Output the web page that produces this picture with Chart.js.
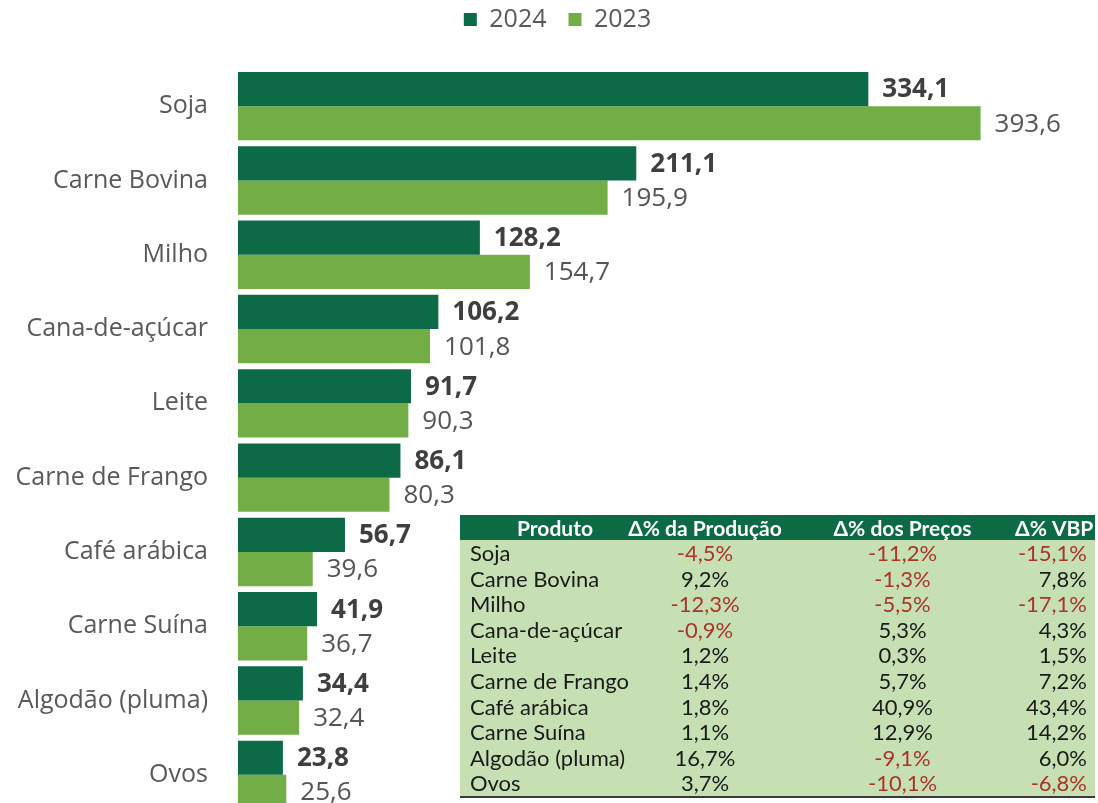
<!DOCTYPE html>
<html>
<head>
<meta charset="utf-8">
<script src="https://cdn.jsdelivr.net/npm/chart.js@4"></script>
<style>
  html, body { margin:0; padding:0; background:#fff; overflow:hidden; }
  #wrap { position:relative; width:1098px; height:812px; }
  #c { display:block; }
  #tbl { position:absolute; left:460px; top:515px; width:635px; border-collapse:collapse; table-layout:fixed;
         font-family: Lato, "Open Sans", sans-serif; font-size:22px; color:#1a1a1a; }
  #tbl th { background:#0c6a45; color:#fff; font-weight:bold; height:25px; padding:0; font-size:21px; line-height:25px; white-space:nowrap; }
  #tbl td { background:#c6e0b4; height:25.6px; padding:0; line-height:25.6px; white-space:nowrap; }
  #tbl tr:last-child td { border-bottom:2px solid #3a3a3a; }
  .neg { color:#a8352a; }
</style>
</head>
<body>
<div id="wrap">
  <canvas id="c" width="1098" height="812"></canvas>
  <table id="tbl"><colgroup><col style="width:160px"><col style="width:170px"><col style="width:225px"><col style="width:80px"></colgroup><thead></thead><tbody></tbody></table>
</div>
<script>
const categories = ["Soja","Carne Bovina","Milho","Cana-de-açúcar","Leite","Carne de Frango","Café arábica","Carne Suína","Algodão (pluma)","Ovos"];
const values2024 = [334.1, 211.1, 128.2, 106.2, 91.7, 86.1, 56.7, 41.9, 34.4, 23.8];
const values2023 = [393.6, 195.9, 154.7, 101.8, 90.3, 80.3, 39.6, 36.7, 32.4, 25.6];
const seriesLabels = ["2024", "2023"];

const tableHeaders = ["Produto", "Δ% da Produção", "Δ% dos Preços", "Δ% VBP"];
const deltaProducao = [-4.5, 9.2, -12.3, -0.9, 1.2, 1.4, 1.8, 1.1, 16.7, 3.7];
const deltaPrecos = [-11.2, -1.3, -5.5, 5.3, 0.3, 5.7, 40.9, 12.9, -9.1, -10.1];
const deltaVBP = [-15.1, 7.8, -17.1, 4.3, 1.5, 7.2, 43.4, 14.2, 6.0, -6.8];

const fmt = v => v.toFixed(1).replace('.', ',');

// table
const thead = document.querySelector('#tbl thead');
const htr = document.createElement('tr');
tableHeaders.forEach((h, i) => {
  const th = document.createElement('th');
  th.textContent = h;
  if (i === 0) { th.style.textAlign = 'center'; th.style.paddingLeft = '30px'; }
  else if (i === 3) { th.style.textAlign = 'right'; th.style.paddingRight = '6px'; }
  else th.style.textAlign = 'center';
  htr.appendChild(th);
});
thead.appendChild(htr);
const tbody = document.querySelector('#tbl tbody');
categories.forEach((cat, r) => {
  const tr = document.createElement('tr');
  const cells = [cat, deltaProducao[r], deltaPrecos[r], deltaVBP[r]];
  cells.forEach((v, i) => {
    const td = document.createElement('td');
    if (i === 0) { td.textContent = v; td.style.paddingLeft = '10px'; }
    else {
      td.textContent = fmt(v) + '%';
      if (v < 0) td.className = 'neg';
      td.style.textAlign = i === 3 ? 'right' : 'center';
      if (i === 3) td.style.paddingRight = '8px';
    }
    tr.appendChild(td);
  });
  tbody.appendChild(tr);
});

const valueLabels = {
  id: 'valueLabels',
  afterDatasetsDraw(chart) {
    const ctx = chart.ctx;
    chart.data.datasets.forEach((ds, di) => {
      const meta = chart.getDatasetMeta(di);
      meta.data.forEach((bar, i) => {
        ctx.save();
        ctx.font = (di === 0 ? 'bold ' : '') + '26px "Open Sans", sans-serif';
        ctx.fillStyle = di === 0 ? '#3f3f3f' : '#555555';
        ctx.textAlign = 'left';
        ctx.textBaseline = 'middle';
        ctx.fillText(fmt(ds.data[i]), bar.x + 14, bar.y + 1);
        ctx.restore();
      });
    });
  }
};

const legendSpace = {
  id: 'legendSpace',
  beforeInit(chart) {
    const origFit = chart.legend.fit;
    chart.legend.fit = function () {
      origFit.bind(chart.legend)();
      this.height = 69;
    };
  },
  afterLayout(chart) {
    chart.legend.top -= 15;
    chart.legend.bottom -= 15;
    chart.legend.left += 14;
    chart.legend.right += 14;
  }
};

const chart = new Chart(document.getElementById('c'), {
  type: 'bar',
  data: {
    labels: categories,
    datasets: [
      { label: seriesLabels[0], data: values2024, backgroundColor: '#0c6a47', barPercentage: 1.0, categoryPercentage: 0.92 },
      { label: seriesLabels[1], data: values2023, backgroundColor: '#72ad46', barPercentage: 1.0, categoryPercentage: 0.92 }
    ]
  },
  options: {
    indexAxis: 'y',
    responsive: false,
    animation: false,
    layout: { padding: { top: 0, right: 11, bottom: 0, left: 0 } },
    scales: {
      x: { display: false, min: 0, max: 450, grid: { display: false } },
      y: {
        grid: { display: false, drawTicks: false },
        border: { display: false },
        ticks: { color: '#595959', font: { family: '"Open Sans", sans-serif', size: 25 }, padding: 30 },
        afterFit(scale) { scale.width = 238; scale.paddingTop = 0; scale.paddingBottom = 0; }
      }
    },
    plugins: {
      legend: {
        position: 'top',
        labels: { color: '#595959', font: { family: '"Open Sans", sans-serif', size: 25 }, boxWidth: 13, boxHeight: 13, padding: 22 }
      },
      tooltip: { enabled: false },
      title: { display: false }
    }
  },
  plugins: [valueLabels, legendSpace]
});
</script>
</body>
</html>
